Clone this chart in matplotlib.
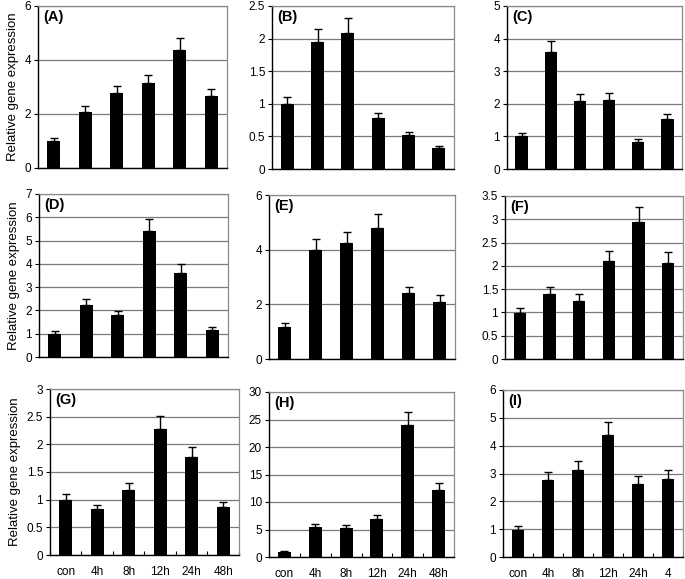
import matplotlib
matplotlib.use("Agg")
import matplotlib.pyplot as plt
import numpy as np

plt.rcParams['font.family'] = ['Liberation Sans', 'DejaVu Sans']

categories = ["con", "4h", "8h", "12h", "24h", "48h"]
categories_I = ["con", "4h", "8h", "12h", "24h", "4"]

vals_A = [1.0, 2.07, 2.76, 3.13, 4.38, 2.65]
err_A = [0.11, 0.23, 0.29, 0.32, 0.44, 0.26]
vals_B = [1.0, 1.95, 2.09, 0.78, 0.52, 0.32]
err_B = [0.10, 0.19, 0.22, 0.08, 0.05, 0.03]
vals_C = [1.0, 3.58, 2.09, 2.13, 0.82, 1.54]
err_C = [0.10, 0.36, 0.20, 0.21, 0.09, 0.15]
vals_D = [0.99, 2.25, 1.80, 5.41, 3.62, 1.16]
err_D = [0.11, 0.25, 0.17, 0.53, 0.39, 0.14]
vals_E = [1.17, 3.97, 4.23, 4.79, 2.41, 2.10]
err_E = [0.14, 0.42, 0.43, 0.52, 0.24, 0.23]
vals_F = [0.98, 1.40, 1.25, 2.10, 2.94, 2.07]
err_F = [0.12, 0.14, 0.14, 0.22, 0.32, 0.22]
vals_G = [0.99, 0.83, 1.17, 2.28, 1.78, 0.87]
err_G = [0.11, 0.08, 0.13, 0.23, 0.18, 0.08]
vals_H = [0.97, 5.49, 5.25, 6.82, 23.96, 12.25]
err_H = [0.18, 0.60, 0.60, 0.78, 2.47, 1.27]
vals_I = [0.98, 2.77, 3.12, 4.38, 2.64, 2.81]
err_I = [0.13, 0.29, 0.34, 0.46, 0.28, 0.30]

panels = [
    ("(A)", vals_A, err_A, 6, 2, [0, 2, 4, 6], (38, 227, 6, 168)),
    ("(B)", vals_B, err_B, 2.5, 0.5, ["0", "0.5", "1", "1.5", "2", "2.5"], (272, 454, 6, 169)),
    ("(C)", vals_C, err_C, 5, 1, [0, 1, 2, 3, 4, 5], (507, 682, 6, 169)),
    ("(D)", vals_D, err_D, 7, 1, [0, 1, 2, 3, 4, 5, 6, 7], (39, 228, 194, 357)),
    ("(E)", vals_E, err_E, 6, 2, [0, 2, 4, 6], (269, 455, 195, 359)),
    ("(F)", vals_F, err_F, 3.5, 0.5, ["0", "0.5", "1", "1.5", "2", "2.5", "3", "3.5"], (505, 683, 196, 359)),
    ("(G)", vals_G, err_G, 3, 0.5, ["0", "0.5", "1", "1.5", "2", "2.5", "3"], (50, 239, 389, 555)),
    ("(H)", vals_H, err_H, 30, 5, [0, 5, 10, 15, 20, 25, 30], (269, 454, 392, 557)),
    ("(I)", vals_I, err_I, 6, 1, [0, 1, 2, 3, 4, 5, 6], (503, 683, 390, 557)),
]

W, H = 685, 579
fig = plt.figure(figsize=(W / 100, H / 100), dpi=100)

for idx, (lab, vals, errs, ymax, step, tlabels, (l, r, t, b)) in enumerate(panels):
    ax = fig.add_axes([l / W, 1 - b / H, (r - l) / W, (b - t) / H])
    x = np.arange(len(vals))
    ax.bar(x, vals, width=0.42, color='black', zorder=3)
    ax.errorbar(x, vals, yerr=[np.zeros(len(errs)), errs], fmt='none',
                ecolor='black', elinewidth=1.0, capsize=3, capthick=1.0, zorder=4)
    ax.set_xlim(-0.5, len(vals) - 0.5)
    ax.set_ylim(0, ymax)
    yt = np.arange(0, ymax + step / 2, step)
    ax.set_yticks(yt)
    ax.set_yticklabels([str(v) for v in tlabels], fontsize=8.5)
    ax.yaxis.grid(True, color='#7a7a7a', linewidth=0.9, zorder=0)
    ax.set_axisbelow(True)
    ax.tick_params(axis='y', length=3, width=0.8, pad=2)
    for s in ['top', 'right']:
        ax.spines[s].set_color('#8a8a8a')
        ax.spines[s].set_linewidth(0.9)
    for s in ['left', 'bottom']:
        ax.spines[s].set_color('black')
        ax.spines[s].set_linewidth(1.0)
    ax.text(0.03, 0.975, lab, transform=ax.transAxes, fontsize=10.5,
            fontweight='bold', va='top', ha='left', zorder=5)
    if idx >= 6:
        labs = categories_I if idx == 8 else categories
        ax.set_xticks(x)
        ax.set_xticklabels(labs, fontsize=8.5)
        ax.tick_params(axis='x', which='major', length=0, pad=8)
        ax.set_xticks(np.arange(-0.5, len(vals)), minor=True)
        ax.tick_params(axis='x', which='minor', direction='in', length=3, width=0.8)
    else:
        ax.set_xticks([])
    if idx % 3 == 0:
        ax.set_ylabel("Relative gene expression", fontsize=9.5, labelpad=4)

fig.savefig("out.png", dpi=100)
